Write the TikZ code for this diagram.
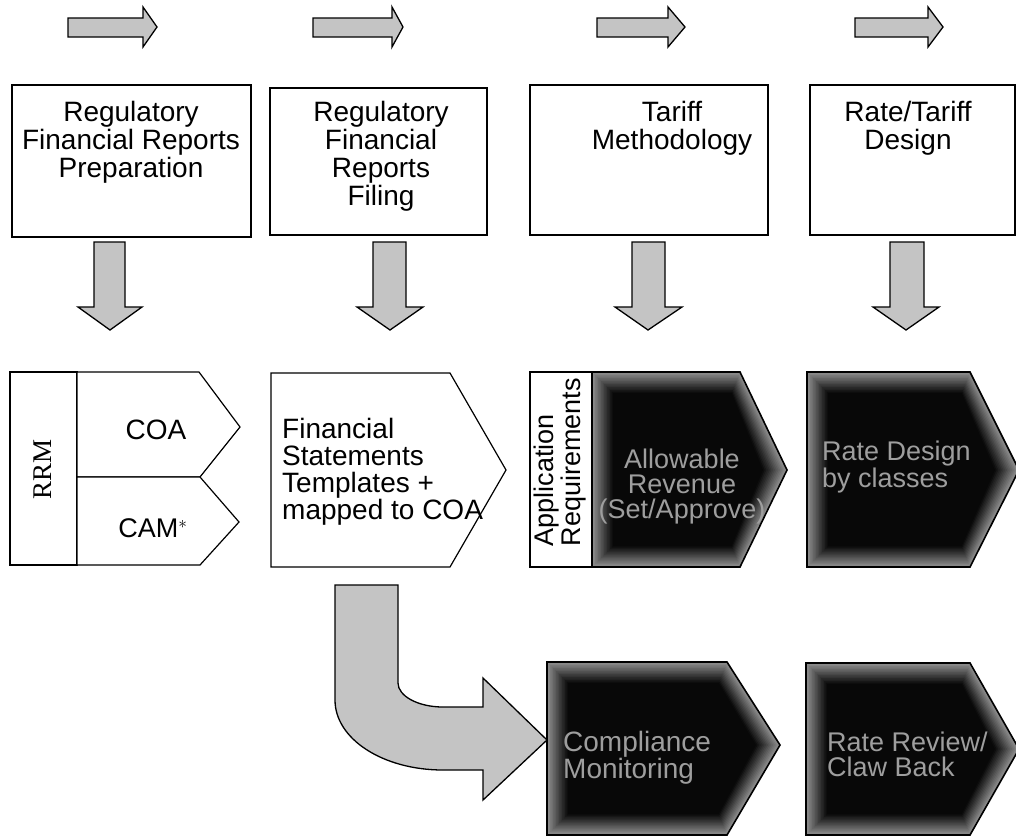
\documentclass[tikz,border=0pt]{standalone}
\usepackage{fontspec}
\setmainfont{Liberation Sans}
\newfontfamily\rrmfont{Liberation Serif}
\tikzset{
  blockarrow/.style={draw=black, line width=1.3pt, fill=black!23, line join=miter},
  plainbox/.style={draw=black, line width=1.2pt, fill=white},
  darkedge/.style={draw=black, line width=1.6pt, line join=miter},
  lbl/.style={inner sep=0pt, font=\fontsize{28}{28}\selectfont, align=center},
  darklbl/.style={inner sep=0pt, text=black!38, font=\fontsize{27}{25}\selectfont},
}
% dark pentagon with a soft grey rim: left, top, slant start x, tip x, tip y, bottom
\newcommand{\dpent}[6]{%
  \foreach \d in {0,1.5,...,21}{%
    \pgfmathtruncatemacro{\c}{min(97,45+2.6*\d)}%
    \fill[black!\c] (#1+\d,#2+\d) -- (#3-0.4*\d,#2+\d) -- (#4-1.15*\d,#5) -- (#3-0.4*\d,#6-\d) -- (#1+\d,#6-\d) -- cycle;
  }%
  \draw[darkedge] (#1,#2) -- (#3,#2) -- (#4,#5) -- (#3,#6) -- (#1,#6) -- cycle;
}
\begin{document}
\begin{tikzpicture}[x=1pt,y=-1pt]
\useasboundingbox (0,0) rectangle (1016,838);
\fill[white] (0,0) rectangle (1016,838);

% top right-pointing arrows
\foreach \a/\b/\c in {68/143/157, 313/392/403, 597/668/685, 855/928/943}{
  \draw[blockarrow] (\a,18) -- (\b,18) -- (\b,7) -- (\c,27) -- (\b,47) -- (\b,37) -- (\a,37) -- cycle;
}

% top boxes
\draw[plainbox] (12,85) rectangle (251,237);
\draw[plainbox] (270,88) rectangle (487,235);
\draw[plainbox] (530,85) rectangle (768,235);
\draw[plainbox] (810,85) rectangle (1015,235);
\node[lbl, anchor=north] (t1) at (131,101) {Regulatory\\Financial Reports\\Preparation};
\node[lbl, anchor=north] (t2) at (381,101) {Regulatory\\Financial\\Reports\\Filing};
\node[lbl, anchor=north] (t3) at (672,101) {Tariff\\Methodology};
\node[lbl, anchor=north] (t4) at (908,101) {Rate/Tariff\\Design};

% down arrows
\foreach \l/\r/\hl/\hr/\t in {94/125/78/142/110, 373/406/357/423/390, 632/665/615/682/648, 890/924/873/939/906}{
  \draw[blockarrow] (\l,242) -- (\r,242) -- (\r,307) -- (\hr,307) -- (\t,330) -- (\hl,307) -- (\l,307) -- cycle;
}

% left group: RRM / COA / CAM
\draw[plainbox] (10,372) rectangle (77,565);
\draw[plainbox] (77,372) -- (199,372) -- (240,427) -- (200,477) -- (77,477) -- cycle;
\draw[plainbox] (77,477) -- (200,477) -- (239,522) -- (200,565) -- (77,565) -- cycle;
\node[inner sep=0pt, rotate=90, font=\rrmfont\fontsize{27}{27}\selectfont] (rrm) at (43,469) {RRM};
\node[lbl] (coa) at (156,430) {COA};
\node[lbl, font=\fontsize{27}{27}\selectfont] (cam) at (153,528) {CAM$^{*}$};

% financial statements
\draw[plainbox] (271,373) -- (450,373) -- (506,470) -- (450,567) -- (271,567) -- cycle;
\node[lbl, align=left, anchor=north west, font=\fontsize{28}{27}\selectfont] (fst) at (282,418)
  {Financial\\Statements\\Templates +\\mapped to COA};

% application requirements + allowable revenue
\dpent{592}{372}{740}{787}{470}{567}
\draw[plainbox] (530,372) rectangle (592,567);
\node[lbl, align=left, rotate=90, font=\fontsize{27}{27}\selectfont] (app) at (560,462) {Application\\Requirements};
\node[darklbl, align=center] (allow) at (682,487) {Allowable\\Revenue\\(Set/Approve)};

% rate design by classes
\dpent{807}{372}{970}{1019}{470}{567}
\node[darklbl, align=left, anchor=west] (ratedes) at (822,467) {Rate Design\\by classes};

% curved arrow
\draw[blockarrow] (335,585) -- (398,585) -- (398,683)
  .. controls (398,696) and (418,707) .. (443,707) -- (483,707) -- (483,678)
  -- (547,740) -- (483,800) -- (483,770) -- (443,770)
  .. controls (383,770) and (335,739) .. (335,700) -- cycle;

% bottom dark shapes
\dpent{547}{662}{727}{780}{745}{835}
\node[darklbl, align=left, anchor=west, font=\fontsize{28}{25}\selectfont] (compl) at (563,758) {Compliance\\Monitoring};
\dpent{806}{663}{970}{1019}{749}{835}
\node[darklbl, align=left, anchor=west] (review) at (827,754) {Rate Review/\\Claw Back};
\end{tikzpicture}
\end{document}
